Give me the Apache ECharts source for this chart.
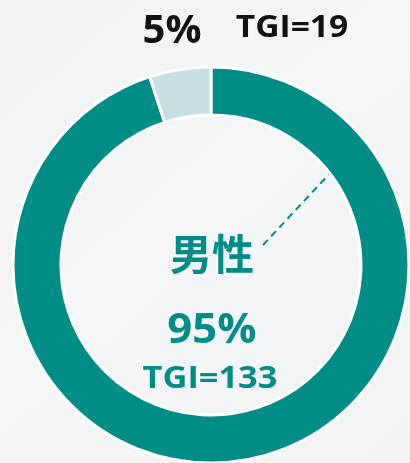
<!DOCTYPE html>
<html>
<head>
<meta charset="utf-8">
<script src="https://cdn.jsdelivr.net/npm/echarts@6/dist/echarts.min.js"></script>
<style>
html,body{margin:0;padding:0;background:#f3f4f6;}
#box{width:410px;height:463px;}
</style>
</head>
<body>
<div id="box"></div>
<script>
// 性别分布
var genderNames = ['男性', '女性'];
var genderShare = [95, 5];   // 占比 %
var genderTgi = [133, 19];

var teal = '#008c87';
var light = '#c5dfe5';
var cx = 211, cy = 265;
var rIn = 150, rOut = 198;
var font = '"Open Sans", "Noto Sans CJK SC", sans-serif';

function $each(arr, fn) {
	for (var i = 0; i < arr.length; i++) fn(i, arr[i]);
}

var pieData = [];
$each(genderNames, function (i, name) {
	pieData.push({
		name: name,
		value: genderShare[i],
		itemStyle: {color: i == 0 ? teal : light}
	});
});

// 虚线指引 (从中心文字斜向圆环内沿)
var sx = cx + 52, sy = cy - 20;
var ang = 47 * Math.PI / 180;
var dx = Math.cos(ang), dy = -Math.sin(ang);
// 求与内圆的交点
var px = sx - cx, py = sy - cy;
var b = px * dx + py * dy;
var c = px * px + py * py - (rIn + 1) * (rIn + 1);
var t = -b + Math.sqrt(b * b - c);
var ex = sx + dx * t, ey = sy + dy * t;

var myChart = echarts.init(document.getElementById('box'));
var option = {
	backgroundColor: {
		type: 'linear', x: 0, y: 0, x2: 1, y2: 1,
		colorStops: [
			{offset: 0, color: '#f1f2f4'},
			{offset: 0.45, color: '#f5f6f8'},
			{offset: 1, color: '#f2f3f5'}
		]
	},
	animation: false,
	series: [{
		type: 'pie',
		center: [cx, cy],
		radius: [rIn, rOut],
		startAngle: 90,
		clockwise: true,
		label: {show: false},
		labelLine: {show: false},
		itemStyle: {borderColor: '#ffffff', borderWidth: 3},
		data: pieData
	}],
	graphic: [
		{
			type: 'line',
			shape: {x1: sx, y1: sy, x2: ex, y2: ey},
			style: {stroke: teal, lineWidth: 2, lineDash: [7, 5]}
		},
		{
			type: 'text', x: 172, y: 32,
			style: {text: genderShare[1] + '%', font: 'bold 40px ' + font, fill: '#111111', align: 'center', verticalAlign: 'middle'}
		},
		{
			type: 'text', x: 292, y: 28, scaleX: 1.12,
			style: {text: 'TGI=' + genderTgi[1], font: 'bold 30px ' + font, fill: '#111111', align: 'center', verticalAlign: 'middle'}
		},
		{
			type: 'text', x: 212, y: 258,
			style: {text: genderNames[0], font: 'bold 42px ' + font, fill: teal, align: 'center', verticalAlign: 'middle'}
		},
		{
			type: 'text', x: 212, y: 331, scaleX: 1.04,
			style: {text: genderShare[0] + '%', font: 'bold 42px ' + font, fill: teal, align: 'center', verticalAlign: 'middle'}
		},
		{
			type: 'text', x: 210, y: 379, scaleX: 1.11,
			style: {text: 'TGI=' + genderTgi[0], font: 'bold 31px ' + font, fill: teal, align: 'center', verticalAlign: 'middle'}
		}
	]
};
myChart.setOption(option);
</script>
</body>
</html>
